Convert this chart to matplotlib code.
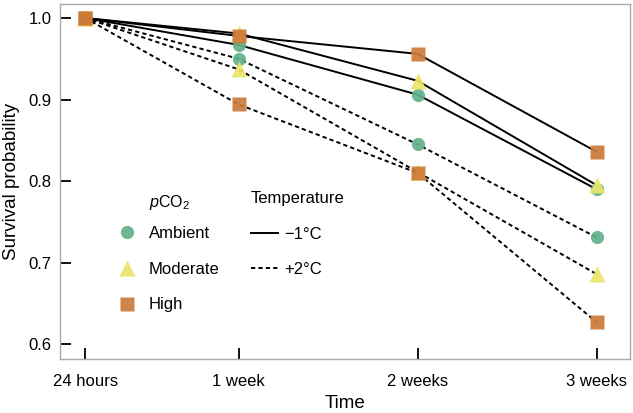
import matplotlib
matplotlib.use('Agg')
import matplotlib.pyplot as plt
from matplotlib.lines import Line2D

plt.rcParams['font.family'] = 'Liberation Sans'
plt.rcParams['mathtext.fontset'] = 'custom'
plt.rcParams['mathtext.rm'] = 'Liberation Sans'
plt.rcParams['mathtext.it'] = 'Liberation Sans:italic'

# days since start of exposure
days = [1, 7, 14, 21]
time_labels = ['24 hours', '1 week', '2 weeks', '3 weeks']

# survival probability, -1 C treatment
cold_ambient = [1.0, 0.967, 0.906, 0.790]
cold_moderate = [1.0, 0.981, 0.923, 0.795]
cold_high = [1.0, 0.978, 0.956, 0.836]

# survival probability, +2 C treatment
warm_ambient = [1.0, 0.950, 0.845, 0.731]
warm_moderate = [1.0, 0.937, 0.811, 0.686]
warm_high = [1.0, 0.894, 0.810, 0.627]

co2_levels = ['Ambient', 'Moderate', 'High']
temp_labels = ['\u22121\u00b0C', '+2\u00b0C']

colors = {'Ambient': '#62b08b', 'Moderate': '#ebe46a', 'High': '#cd7a37'}
markers = {'Ambient': 'o', 'Moderate': '^', 'High': 's'}
msizes = {'Ambient': 9.5, 'Moderate': 11, 'High': 9.5}
dash = (0, (2.2, 1.6))

fig = plt.figure(figsize=(6.33, 4.13), dpi=100)
ax = fig.add_axes([0.095, 0.131, 0.9, 0.859])

series = {
    ('Ambient', 'cold'): cold_ambient,
    ('Moderate', 'cold'): cold_moderate,
    ('High', 'cold'): cold_high,
    ('Ambient', 'warm'): warm_ambient,
    ('Moderate', 'warm'): warm_moderate,
    ('High', 'warm'): warm_high,
}

# lines first, markers on top
for (lvl, temp), vals in series.items():
    ls = '-' if temp == 'cold' else dash
    ax.plot(days, vals, color='black', lw=1.4, ls=ls, zorder=2)

for lvl in co2_levels:
    for temp in ['cold', 'warm']:
        ax.plot(days, series[(lvl, temp)], ls='none', marker=markers[lvl],
                ms=msizes[lvl], color=colors[lvl], mec='none', alpha=0.92, zorder=3)

ax.set_xlim(0.02, 22.3)
ax.set_ylim(0.582, 1.017)
ax.set_xticks(days)
ax.set_xticklabels(time_labels)
ax.set_yticks([0.6, 0.7, 0.8, 0.9, 1.0])
ax.set_yticklabels(['0.6', '0.7', '0.8', '0.9', '1.0'])
ax.tick_params(direction='in', length=8, width=1.3, labelsize=12, color='black')
ax.tick_params(axis='x', pad=11)
ax.tick_params(axis='y', pad=6)
for sp in ax.spines.values():
    sp.set_color('#a8a8a8')
    sp.set_linewidth(1.0)

ax.set_xlabel('Time', fontsize=13.5, labelpad=4)
ax.set_ylabel('Survival probability', fontsize=13.5, labelpad=6)

# legends
co2_handles = [Line2D([], [], ls='none', marker=markers[l], ms=msizes[l],
                      color=colors[l], mec='none', alpha=0.92) for l in co2_levels]
leg1 = ax.legend(co2_handles, co2_levels,
                 fontsize=12, frameon=False, loc='upper left',
                 bbox_to_anchor=(119 / 633, 1 - 226 / 413), bbox_transform=fig.transFigure,
                 borderpad=0, borderaxespad=0, handlelength=1.0, handletextpad=0.8,
                 labelspacing=1.24)
ax.add_artist(leg1)
fig.text(149 / 633, 1 - 202 / 413, '$\\it{p}$CO$_2$', fontsize=11.5, ha='left', va='center')

temp_handles = [Line2D([], [], color='black', lw=1.4, ls='-'),
                Line2D([], [], color='black', lw=1.4, ls=dash)]
ax.legend(temp_handles, temp_labels, title='Temperature', title_fontsize=12,
          fontsize=12, frameon=False, loc='upper left', alignment='left',
          bbox_to_anchor=(251 / 633, 1 - 191 / 413), bbox_transform=fig.transFigure,
          borderpad=0, borderaxespad=0, handlelength=1.6, handletextpad=0.4,
          labelspacing=1.24)

fig.savefig('out.png', dpi=100)
